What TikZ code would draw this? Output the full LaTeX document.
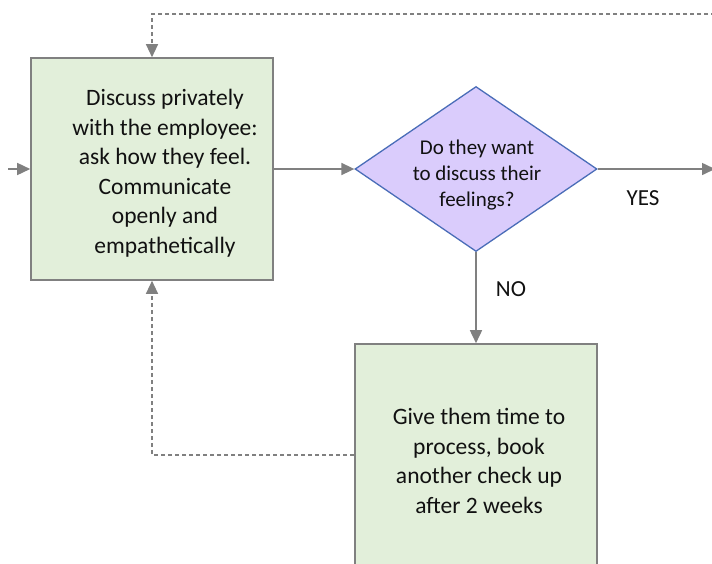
\documentclass[tikz,border=0pt]{standalone}
\usepackage{fontspec}
\setmainfont{Carlito}
\usetikzlibrary{shapes.geometric,arrows.meta}
\definecolor{boxfill}{HTML}{E2EFDA}
\definecolor{boxline}{HTML}{808080}
\definecolor{decfill}{HTML}{DACCFC}
\definecolor{decline}{HTML}{4A6DB8}
\definecolor{arrowgray}{HTML}{808080}
\definecolor{txt}{HTML}{111111}
\tikzset{
  stepbox/.style={draw=boxline, line width=1.6pt, fill=boxfill, rectangle,
    minimum width=242pt, inner sep=0pt},
  decision/.style={draw=decline, line width=1.3pt, fill=decfill, diamond,
    minimum width=242pt, minimum height=165pt, inner sep=0pt},
  boxtext/.style={align=center, text=txt, font=\fontsize{23.5}{29.5}\selectfont},
  dectext/.style={align=center, text=txt, font=\fontsize{21}{26}\selectfont},
  lbl/.style={text=txt, font=\fontsize{23}{26}\selectfont},
  flow/.style={draw=arrowgray, line width=1.6pt,
    -{Triangle[length=13pt,width=12pt]}},
  backflow/.style={draw=arrowgray, line width=1.2pt, dash pattern=on 4pt off 3pt,
    -{Triangle[length=13pt,width=12pt]}}
}
\begin{document}
\begin{tikzpicture}[x=1pt,y=-1pt]
  \useasboundingbox (0,0) rectangle (712,563);
  \clip (0,0) rectangle (712,563);
  \fill[white] (0,0) rectangle (712,563);

  % process and decision shapes
  \node[stepbox, minimum height=222pt] (talk) at (152,169) {};
  \node[boxtext] (talktxt) at (165,173) {Discuss privately\\with the employee:\\ask how they feel.\\Communicate\\openly and\\empathetically};

  \node[decision] (ask) at (476,169) {};
  \node[dectext] (asktxt) at (477,175) {Do they want\\to discuss their\\feelings?};

  \node[stepbox, minimum height=232pt] (wait) at (476,460) {};
  \node[boxtext] (waittxt) at (479,461) {Give them time to\\process, book\\another check up\\after 2 weeks};

  % free ends of connectors
  \coordinate (start) at (8,169);
  \coordinate (yesend) at (715,169);
  \coordinate (loopstart) at (715,14);

  % main flow
  \draw[flow] (start) -- (talk.west);
  \draw[flow] (talk.east) -- (ask.west);
  \draw[flow] (ask.east) -- (yesend);
  \draw[flow] (ask.south) -- (wait.north);

  % loops back to the conversation
  \draw[backflow] (loopstart) -| (talk.north);
  \draw[backflow] ([yshift=5pt]wait.west) -| (talk.south);

  % branch labels
  \node[lbl] (yes) at (643,198) {YES};
  \node[lbl] (no) at (511,289) {NO};
\end{tikzpicture}
\end{document}
